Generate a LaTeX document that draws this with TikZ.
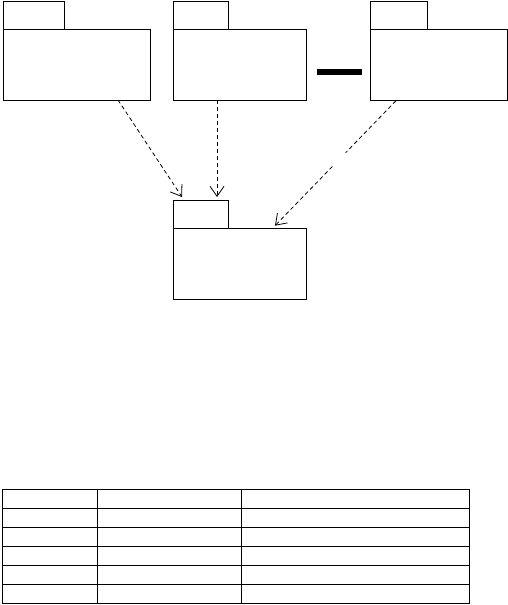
\documentclass[tikz,border=0pt]{standalone}
\usetikzlibrary{arrows.meta,calc}
\begin{document}
\begin{tikzpicture}[x=1pt,y=-1pt,
  box/.style={draw,line width=1pt,inner sep=0pt,outer sep=0pt,anchor=north west},
  dep/.style={line width=0.8pt,dash pattern=on 4pt off 3pt,-{Straight Barb[length=10pt,width=14pt,line width=0.8pt]}},
  cell/.style={draw,line width=1pt,inner sep=0pt,outer sep=0pt,anchor=north west,minimum height=19pt}]
\useasboundingbox (0,0) rectangle (508,605);
% package 1
\node[box,minimum width=61pt,minimum height=28pt] (t1) at (3.3,1.3) {};
\node[box,minimum width=147pt,minimum height=70.7pt] (b1) at (3.3,29.3) {};
% package 2
\node[box,minimum width=55pt,minimum height=28pt] (t2) at (173.3,1.3) {};
\node[box,minimum width=133pt,minimum height=70.7pt] (b2) at (173.3,29.3) {};
% package 3
\node[box,minimum width=57pt,minimum height=28pt] (t3) at (370.3,1.3) {};
\node[box,minimum width=136.7pt,minimum height=70.7pt] (b3) at (370.3,29.3) {};
% bold bar
\node[fill=black,inner sep=0pt,outer sep=0pt,anchor=north west,minimum width=44.7pt,minimum height=5.4pt] (bar) at (317,69.3) {};
% package 4
\node[box,minimum width=55pt,minimum height=28pt] (t4) at (173.3,200.3) {};
\node[box,minimum width=133pt,minimum height=70.7pt] (b4) at (173.3,228.3) {};
% connector end points
\coordinate (s1) at ($(b1.south west)+(114.7,0)$);
\coordinate (e1) at ($(t4.north west)+(8.7,-3.3)$);
\coordinate (s2) at ($(b2.south west)+(43.7,0)$);
\coordinate (e2) at ($(t4.north west)+(43.7,-3.3)$);
\coordinate (s3) at ($(b3.south west)+(25.7,0.7)$);
\coordinate (e3) at ($(b4.north west)+(101.7,-2.6)$);
\draw[dep] (s1) -- (e1);
\draw[dep] (s2) -- (e2);
\draw[line width=0.8pt,dash pattern=on 4pt off 3pt] (s3) -- ($(s3)!0.416!(e3)$);
\draw[dep] ($(s3)!0.526!(e3)$) -- (e3);
% table
\foreach \r/\y/\h in {0/489.7/18.6,1/508.3/19,2/527.3/19,3/546.3/19,4/565.3/19,5/584.3/19}{
  \node[cell,minimum width=95pt,minimum height=\h pt] (c\r a) at (2.3,\y) {};
  \node[cell,minimum width=144pt,minimum height=\h pt] (c\r b) at (97.3,\y) {};
  \node[cell,minimum width=228.4pt,minimum height=\h pt] (c\r c) at (241.3,\y) {};
}
\end{tikzpicture}
\end{document}
